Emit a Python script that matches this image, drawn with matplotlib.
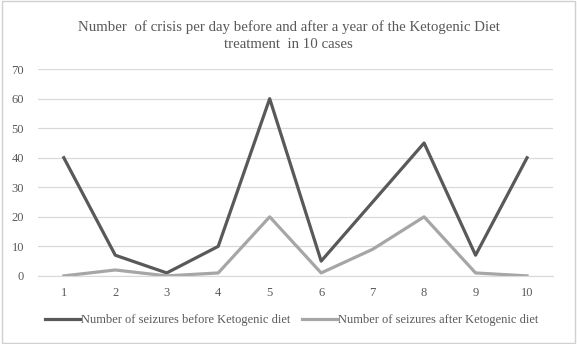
import matplotlib
matplotlib.use("Agg")
import matplotlib.pyplot as plt
from matplotlib.patches import Rectangle

cases = [1, 2, 3, 4, 5, 6, 7, 8, 9, 10]
before = [40, 7, 1, 10, 60, 5, 25, 45, 7, 40]
after = [0, 2, 0, 1, 20, 1, 9, 20, 1, 0]
yticks = [0, 10, 20, 30, 40, 50, 60, 70]

plt.rcParams['font.family'] = ['Liberation Serif', 'DejaVu Serif']
txt = '#595959'

fig = plt.figure(figsize=(5.77, 3.44), dpi=100)
fig.patches.append(Rectangle((0.003, 0.003), 0.994, 0.994, transform=fig.transFigure,
                             fill=False, edgecolor='#d0d0d0', linewidth=1))
ax = fig.add_axes([0.066, 0.198, 0.892, 0.601])
ax.plot(cases, before, color='#595959', linewidth=2.3, label='Number of seizures before Ketogenic diet')
ax.plot(cases, after, color='#a6a6a6', linewidth=2.3, label='Number of seizures after Ketogenic diet')
ax.set_xlim(0.5, 10.5)
ax.set_ylim(0, 70)
ax.set_yticks(yticks)
ax.set_xticks(cases)
ax.set_xticklabels([str(c) for c in cases])
ax.grid(axis='y', color='#d9d9d9', linewidth=0.9)
ax.set_axisbelow(True)
for s in ['top', 'right', 'left']:
    ax.spines[s].set_visible(False)
ax.spines['bottom'].set_color('#d9d9d9')
ax.tick_params(axis='both', length=0, colors=txt, labelsize=9)
ax.tick_params(axis='x', pad=8)
ax.tick_params(axis='y', pad=10)
fig.text(0.5, 0.896, 'Number  of crisis per day before and after a year of the Ketogenic Diet\ntreatment  in 10 cases',
         ha='center', va='center', fontsize=10.7, color=txt, linespacing=1.45)
fig.legend(loc='center', bbox_to_anchor=(0.505, 0.07), ncol=2, frameon=False, fontsize=9,
           labelcolor=txt, handlelength=2.8, handletextpad=0.1, columnspacing=0.9)
fig.savefig('out.png', dpi=100)
